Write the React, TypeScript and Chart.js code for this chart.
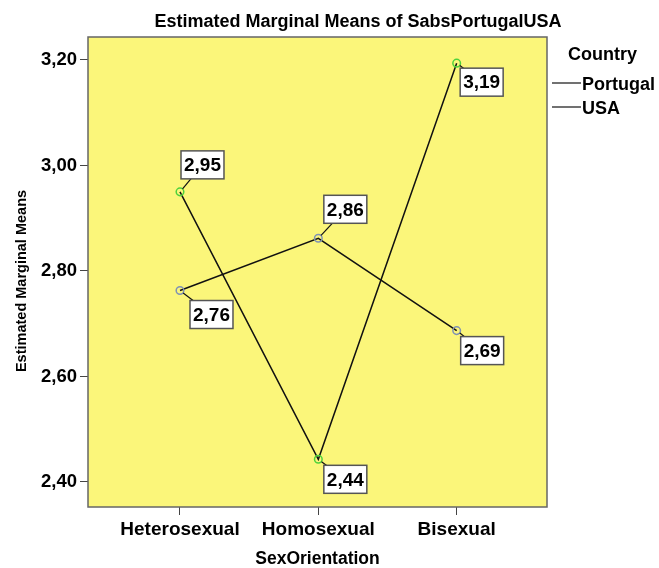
import React, { useEffect, useRef } from "react";
import { Chart, registerables } from "chart.js";

Chart.register(...registerables);

// ---- data ----
const categories = ["Heterosexual", "Homosexual", "Bisexual"];
const seriesNames = ["Portugal", "USA"];
const portugalMeans = [2.95, 2.443, 3.194];
const usaMeans = [2.763, 2.862, 2.687];
const yTickValues = [2.4, 2.6, 2.8, 3.0, 3.2];
const chartTitle = "Estimated Marginal Means of SabsPortugalUSA";
const legendTitle = "Country";
const xAxisTitle = "SexOrientation";
const yAxisTitle = "Estimated Marginal Means";

// ---- presentation ----
const FONT = '"Liberation Sans", Arial, sans-serif';
const pointColors = ["#4fd23c", "#7f92b4"];
// label box centre offset from its point, per series / category
const labelOffsets = [
  [[22.5, -27], [27, 20], [25, 19]],
  [[31.5, 24], [27, -29], [25.5, 20]],
];

const fmt = (v: number) => v.toFixed(2).replace(".", ",");

const decorPlugin = {
  id: "decor",
  beforeDraw(chart: any) {
    const { ctx, chartArea: a } = chart;
    ctx.save();
    ctx.fillStyle = "#fbf67a";
    ctx.fillRect(a.left, a.top, a.right - a.left, a.bottom - a.top);
    ctx.restore();
  },
  beforeDatasetsDraw(chart: any) {
    const { ctx, chartArea: a } = chart;
    ctx.save();
    ctx.strokeStyle = "#666";
    ctx.lineWidth = 1.5;
    ctx.strokeRect(a.left, a.top, a.right - a.left, a.bottom - a.top);
    ctx.restore();
  },
  afterDatasetsDraw(chart: any) {
    const { ctx } = chart;
    ctx.save();
    ctx.font = `bold 19px ${FONT}`;
    ctx.textAlign = "center";
    ctx.textBaseline = "middle";
    chart.data.datasets.forEach((ds: any, i: number) => {
      const meta = chart.getDatasetMeta(i);
      meta.data.forEach((el: any, j: number) => {
        const value = ds.data[j].y;
        const text = fmt(value);
        const [dx, dy] = labelOffsets[i][j];
        const cx = el.x + dx;
        const cy = el.y + dy;
        const w = ctx.measureText(text).width + 6;
        const h = 28;
        const len = Math.hypot(dx, dy);
        const r = 4;
        ctx.strokeStyle = "#111";
        ctx.lineWidth = 1.2;
        ctx.beginPath();
        ctx.moveTo(el.x + (dx / len) * r, el.y + (dy / len) * r);
        ctx.lineTo(cx, cy);
        ctx.stroke();
        ctx.fillStyle = "#ffffff";
        ctx.fillRect(cx - w / 2, cy - h / 2, w, h);
        ctx.strokeStyle = "#555";
        ctx.lineWidth = 1.5;
        ctx.strokeRect(cx - w / 2, cy - h / 2, w, h);
        ctx.fillStyle = "#000";
        ctx.fillText(text, cx, cy + 1);
      });
    });
    ctx.restore();
  },
  afterDraw(chart: any) {
    const { ctx } = chart;
    ctx.save();
    ctx.fillStyle = "#000";
    ctx.textBaseline = "middle";
    ctx.font = `bold 18px ${FONT}`;
    ctx.textAlign = "center";
    ctx.fillText(chartTitle, 358, 22);
    ctx.save();
    ctx.translate(22, 281);
    ctx.rotate(-Math.PI / 2);
    ctx.font = `bold 14.5px ${FONT}`;
    ctx.fillText(yAxisTitle, 0, 0);
    ctx.restore();
    ctx.textAlign = "left";
    ctx.font = `bold 18px ${FONT}`;
    ctx.fillText(legendTitle, 568, 55);
    const rows = [84, 108];
    seriesNames.forEach((name, i) => {
      ctx.strokeStyle = "#111";
      ctx.lineWidth = 1.2;
      ctx.beginPath();
      ctx.moveTo(552, rows[i] - 1);
      ctx.lineTo(581, rows[i] - 1);
      ctx.stroke();
      ctx.fillText(name, 582, rows[i] + 1);
    });
    ctx.restore();
  },
};

export default function App() {
  const ref = useRef<HTMLCanvasElement | null>(null);
  useEffect(() => {
    if (!ref.current) return;
    const series = [portugalMeans, usaMeans];
    const chart = new Chart(ref.current, {
      type: "line",
      data: {
        datasets: series.map((vals, i) => ({
          label: seriesNames[i],
          data: vals.map((v, j) => ({ x: j, y: v })),
          borderColor: "#111",
          borderWidth: 1.5,
          pointRadius: 3.8,
          pointBorderWidth: 1.5,
          pointBorderColor: pointColors[i],
          pointBackgroundColor: "rgba(0,0,0,0)",
          tension: 0,
        })),
      },
      options: {
        animation: false,
        responsive: false,
        layout: { padding: { top: 37, right: 112, left: 0, bottom: 0 } },
        plugins: {
          legend: { display: false },
          title: { display: false },
          tooltip: { enabled: false },
        },
        scales: {
          x: {
            type: "linear",
            min: -0.665,
            max: 2.653,
            afterBuildTicks: (s: any) => {
              s.ticks = categories.map((_, i) => ({ value: i }));
            },
            afterFit: (s: any) => {
              s.height = 61;
            },
            grid: {
              drawOnChartArea: false,
              drawTicks: true,
              tickLength: 8,
              color: "#444",
              lineWidth: 1,
            },
            border: { display: false },
            ticks: {
              callback: (v: any) => categories[v as number],
              color: "#000",
              font: { family: FONT, size: 19, weight: "bold" },
              padding: 3,
              maxRotation: 0,
              autoSkip: false,
            },
            title: {
              display: true,
              text: xAxisTitle,
              color: "#000",
              font: { family: FONT, size: 17.5, weight: "bold", lineHeight: 1 },
              padding: 0,
            },
          },
          y: {
            type: "linear",
            min: 2.3526,
            max: 3.2436,
            afterBuildTicks: (s: any) => {
              s.ticks = yTickValues.map((v) => ({ value: v }));
            },
            afterFit: (s: any) => {
              s.width = 88;
            },
            grid: {
              drawOnChartArea: false,
              drawTicks: true,
              tickLength: 8,
              color: "#444",
              lineWidth: 1,
            },
            border: { display: false },
            ticks: {
              callback: (v: any) => fmt(v as number),
              color: "#000",
              font: { family: FONT, size: 18.5, weight: "bold" },
              padding: 3,
            },
          },
        },
      },
      plugins: [decorPlugin],
    });
    return () => chart.destroy();
  }, []);
  return (
    <canvas
      ref={ref}
      width={659}
      height={568}
      style={{ position: "absolute", left: 0, top: 0, display: "block" }}
    />
  );
}
